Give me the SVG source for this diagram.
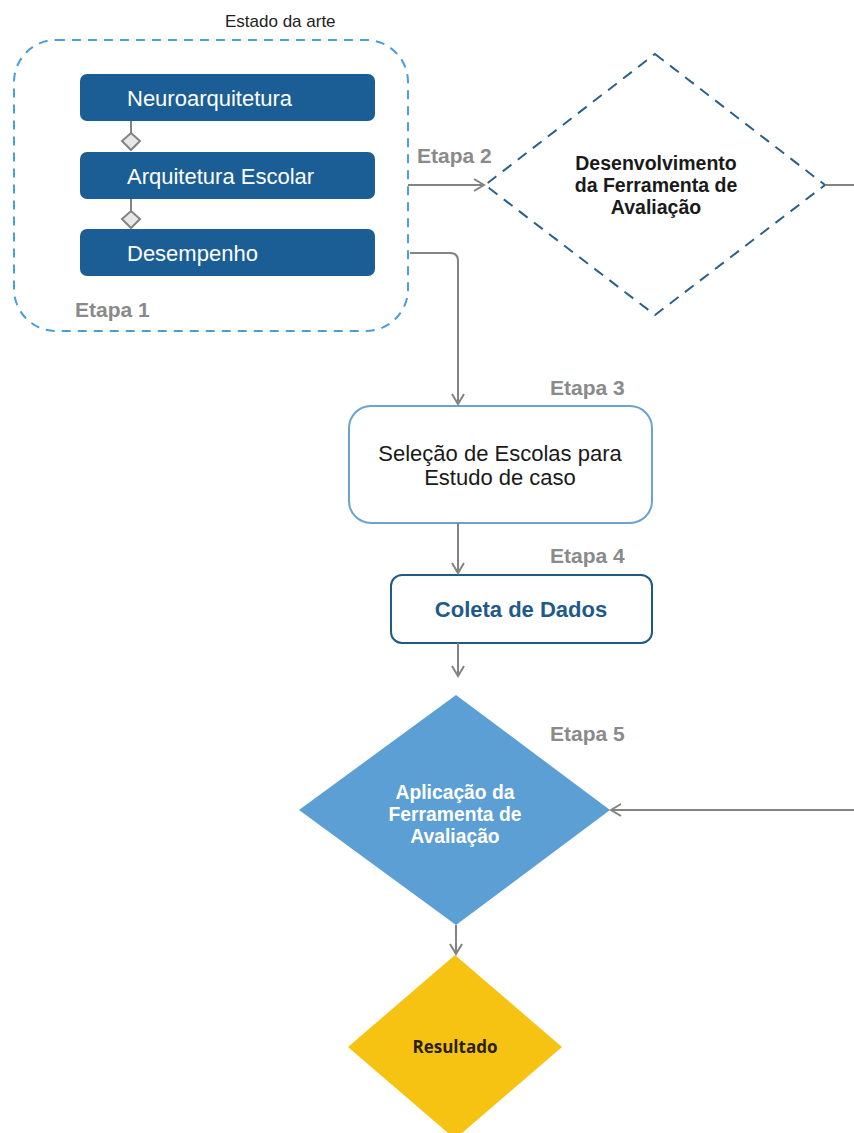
<svg xmlns="http://www.w3.org/2000/svg" width="854" height="1133" viewBox="0 0 854 1133">
<defs>
<style>
.step{font-family:"Liberation Sans",Arial,sans-serif;font-weight:bold;font-size:21px;fill:#8a8a8a}
.wt{font-family:"Liberation Sans",Arial,sans-serif;font-size:22px;fill:#ffffff}
.conn{fill:none;stroke:#838383;stroke-width:2}
.bar{fill:#1b5e95}
</style>
<marker id="arr" viewBox="0 0 14 14" refX="12" refY="7" markerWidth="14" markerHeight="14" markerUnits="userSpaceOnUse" orient="auto">
<path d="M2,1 L12,7 L2,13" fill="none" stroke="#838383" stroke-width="2"/>
</marker>
</defs>
<rect width="854" height="1133" fill="#ffffff"/>

<g id="etapa1">
<rect x="14" y="40" width="394" height="291" rx="42" fill="none" stroke="#4a9fd6" stroke-width="2" stroke-dasharray="9,7"/>
<text x="225" y="27" font-family="'Liberation Sans',Arial,sans-serif" font-size="17" fill="#222">Estado da arte</text>
<text x="75" y="317" class="step">Etapa 1</text>
</g>

<g id="neuro">
<rect x="80" y="74" width="295" height="47" rx="7" class="bar"/>
<text x="127" y="106" class="wt">Neuroarquitetura</text>
</g>
<g id="arqesc">
<rect x="80" y="152" width="295" height="47" rx="7" class="bar"/>
<text x="127" y="184" class="wt">Arquitetura Escolar</text>
</g>
<g id="desemp">
<rect x="80" y="229" width="295" height="47" rx="7" class="bar"/>
<text x="127" y="261" class="wt">Desempenho</text>
</g>

<g id="etapa2">
<polygon points="655,54 825,185 655,315 485,185" fill="none" stroke="#2b6187" stroke-width="2" stroke-dasharray="11,8"/>
<g font-family="'Liberation Sans',Arial,sans-serif" font-weight="bold" font-size="19.5" fill="#1a1a1a" text-anchor="middle">
<text x="656" y="170">Desenvolvimento</text>
<text x="656" y="192">da Ferramenta de</text>
<text x="656" y="214">Avaliação</text>
</g>
<text x="417" y="163" class="step">Etapa 2</text>
</g>

<g id="etapa3">
<rect x="349" y="406" width="303" height="117" rx="22" fill="#ffffff" stroke="#6aa3cf" stroke-width="2"/>
<g font-family="'Liberation Sans',Arial,sans-serif" font-size="22" fill="#1a1a1a" text-anchor="middle">
<text x="500" y="461">Seleção de Escolas para</text>
<text x="500" y="485">Estudo de caso</text>
</g>
<text x="550" y="395" class="step">Etapa 3</text>
</g>

<g id="etapa4">
<rect x="391" y="575" width="261" height="68" rx="11" fill="#ffffff" stroke="#1f5a85" stroke-width="2"/>
<text x="521" y="617" text-anchor="middle" font-family="'Liberation Sans',Arial,sans-serif" font-weight="bold" font-size="22" fill="#1f5a8a">Coleta de Dados</text>
<text x="550" y="563" class="step">Etapa 4</text>
</g>

<g id="etapa5">
<polygon points="456,695 610,810 456,925 299,810" fill="#5b9fd4"/>
<g font-family="'Liberation Sans',Arial,sans-serif" font-weight="bold" font-size="19.3" fill="#ffffff" text-anchor="middle">
<text x="455" y="799">Aplicação da</text>
<text x="455" y="821">Ferramenta de</text>
<text x="455" y="843">Avaliação</text>
</g>
<text x="550" y="741" class="step">Etapa 5</text>
</g>

<g id="resultado">
<polygon points="455,955 562,1047 455,1139 348,1047" fill="#f6c312"/>
<text x="455" y="1053" text-anchor="middle" font-family="'Open Sans','Liberation Sans',sans-serif" font-weight="bold" font-size="17" fill="#2a2010">Resultado</text>
</g>

<g id="connectors">
<line x1="131" y1="121" x2="131" y2="133" class="conn"/>
<polygon points="131,133 140,141 131,150 122,141" fill="#e8e8e8" stroke="#838383" stroke-width="2"/>
<line x1="131" y1="199" x2="131" y2="211" class="conn"/>
<polygon points="131,211 140,219 131,228 122,219" fill="#e8e8e8" stroke="#838383" stroke-width="2"/>
<line x1="408" y1="185" x2="484" y2="185" class="conn" marker-end="url(#arr)"/>
<path d="M410,253 H450 Q458,253 458,261 V404" class="conn" marker-end="url(#arr)"/>
<line x1="458" y1="523" x2="458" y2="573" class="conn" marker-end="url(#arr)"/>
<line x1="458" y1="643" x2="458" y2="676" class="conn" marker-end="url(#arr)"/>
<path d="M825,185 H862 V810 H611" class="conn" marker-end="url(#arr)"/>
<line x1="456" y1="925" x2="456" y2="954" class="conn" marker-end="url(#arr)"/>
</g>
</svg>
